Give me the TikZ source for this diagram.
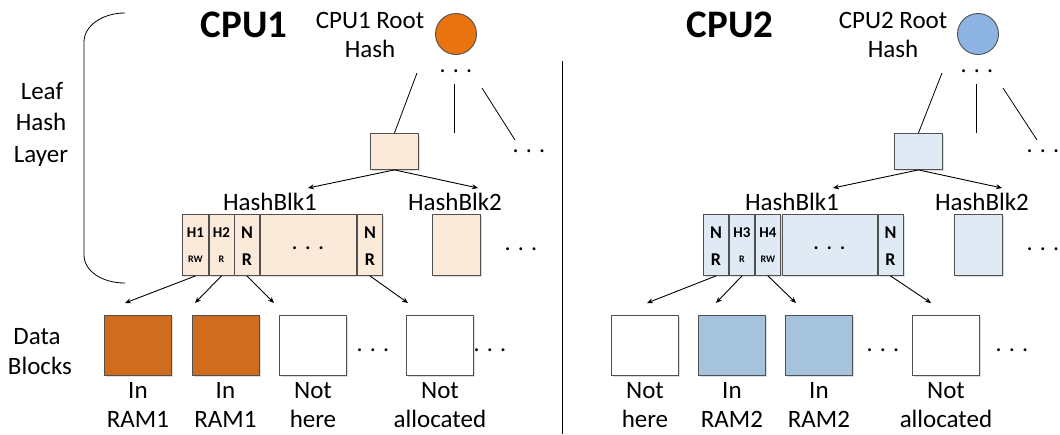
\documentclass[tikz,border=0pt]{standalone}
\usepackage{fontspec}
\setmainfont{Carlito}
\usetikzlibrary{arrows.meta,shadows}
\definecolor{orgC}{HTML}{E8730F}
\definecolor{orgD}{HTML}{D06C1E}
\definecolor{orgL}{HTML}{FBE9DA}
\definecolor{bluC}{HTML}{8DB3E2}
\definecolor{bluD}{HTML}{A6C3DE}
\definecolor{bluL}{HTML}{DFEAF4}
\definecolor{edge}{HTML}{505050}
\tikzset{
  box/.style={draw=edge, line width=0.9pt, inner sep=0pt, anchor=north west,
    drop shadow={shadow xshift=1.6pt, shadow yshift=-1.6pt, fill=black!13, opacity=1}},
  cellbox/.style={box, minimum height=61pt},
  datablk/.style={box, minimum width=67pt, minimum height=60pt},
  txt/.style={inner sep=0pt, anchor=base, font=\fontsize{25}{30}\selectfont},
  title/.style={inner sep=0pt, anchor=base, font=\fontsize{39}{44}\selectfont\bfseries},
  dots/.style={inner sep=0pt, anchor=base, font=\fontsize{24}{28}\selectfont},
  bigc/.style={inner sep=0pt, anchor=base, font=\fontsize{18}{20}\selectfont\bfseries},
  smallc/.style={inner sep=0pt, anchor=base, font=\fontsize{15}{17}\selectfont\bfseries},
  tinyc/.style={inner sep=0pt, anchor=base, font=\fontsize{10}{12}\selectfont\bfseries},
  arr/.style={-{Stealth[length=6pt,width=5pt]}, line width=0.9pt},
  ln/.style={line width=0.8pt},
  rootc/.style={circle, draw=edge, line width=0.9pt, minimum size=41pt, inner sep=0pt},
}
\begin{document}
\begin{tikzpicture}[x=1pt,y=-1pt]
\useasboundingbox (0,0) rectangle (1060,434);
\fill[white] (0,0) rectangle (1060,434);

% ---------------- left labels and bracket
\draw[ln] (125,13) .. controls (102,13) and (84,26) .. (84,42) -- (84,255)
  .. controls (84,271) and (102,283) .. (125,283);
\node[txt] (leaf1) at (42,99) {Leaf};
\node[txt] (leaf2) at (41,130.5) {Hash};
\node[txt] (leaf3) at (41,162) {Layer};
\node[txt] (data1) at (37,344) {Data};
\node[txt] (data2) at (40,374) {Blocks};

% separator
\draw[ln] (562,61) -- (562,434);

% ================= CPU1
\node[title] (t1) at (244,37) {CPU1};
\node[txt] (rt1a) at (370,28) {CPU1 Root};
\node[txt] (rt1b) at (370,57) {Hash};
\node[rootc, fill=orgC] (root1) at (456,34) {};
\node[dots] (d1a) at (456,72.5) {. . .};
\node[box, fill=orgL, minimum width=48pt, minimum height=36pt] (sb1) at (370,133) {};
\coordinate (l1a) at (417,73);
\coordinate (l1b) at (454,84);
\coordinate (l1c) at (454,133);
\coordinate (l1d) at (482,88);
\coordinate (l1e) at (515,140);
\draw[ln] (sb1.north) -- (l1a);
\draw[ln] (l1b) -- (l1c);
\draw[ln] (l1d) -- (l1e);
\node[dots] (d1b) at (529,152.5) {. . .};
\coordinate (h1a) at (308,188);
\coordinate (h1b) at (478,188);
\draw[arr] (sb1.south) -- (h1a);
\draw[arr] (sb1.south) -- (h1b);
\node[txt] (hb11) at (270,210) {HashBlk1};
\node[txt] (hb12) at (455,210) {HashBlk2};
% cells
\node[cellbox, fill=orgL, minimum width=26pt] (c11) at (182,214) {};
\node[cellbox, fill=orgL, minimum width=25pt] (c12) at (208.5,214) {};
\node[cellbox, fill=orgL, minimum width=25pt] (c13) at (234,214) {};
\node[cellbox, fill=orgL, minimum width=96pt] (c14) at (259.5,214) {};
\node[cellbox, fill=orgL, minimum width=25pt] (c15) at (357,214) {};
\node[cellbox, fill=orgL, minimum width=48pt] (c16) at (432,214) {};
\node[smallc] at (c11.center |- 0,237.5) {H1};
\node[tinyc] at (c11.center |- 0,262.5) {RW};
\node[smallc] at (c12.center |- 0,237.5) {H2};
\node[tinyc] at (c12.center |- 0,262.5) {R};
\node[bigc] at (c13.center |- 0,238.5) {N};
\node[bigc] at (c13.center |- 0,265) {R};
\node[dots] (d1c) at (c14.center |- 0,249.5) {. . .};
\node[bigc] at (c15.center |- 0,238.5) {N};
\node[bigc] at (c15.center |- 0,265) {R};
\node[dots] (d1d) at (521,250.5) {. . .};
% data blocks
\node[datablk, fill=orgD] (b11) at (104,315) {};
\node[datablk, fill=orgD] (b12) at (191.5,315) {};
\node[datablk, fill=white] (b13) at (279,315) {};
\node[datablk, fill=white] (b14) at (406,315) {};
\node[dots] (d1e) at (373,351.5) {. . .};
\node[dots] (d1f) at (490,351.5) {. . .};
\coordinate (e11) at (125,303);
\coordinate (e12) at (195,303);
\coordinate (e13) at (274,303);
\coordinate (e14) at (408,303);
\draw[arr] (c11.south) -- (e11);
\draw[arr] (c12.south) -- (e12);
\draw[arr] (c13.south) -- (e13);
\draw[arr] (c15.south) -- (e14);
\node[txt] at (b11.center |- 0,398) {In};
\node[txt] at (b11.center |- 0,427) {RAM1};
\node[txt] at (b12.center |- 0,398) {In};
\node[txt] at (b12.center |- 0,427) {RAM1};
\node[txt] at (b13.center |- 0,398) {Not};
\node[txt] at (b13.center |- 0,427) {here};
\node[txt] at (b14.center |- 0,398) {Not};
\node[txt] at (b14.center |- 0,427) {allocated};

% ================= CPU2
\node[title] (t2) at (730,37) {CPU2};
\node[txt] (rt2a) at (893,28) {CPU2 Root};
\node[txt] (rt2b) at (893,57) {Hash};
\node[rootc, fill=bluC] (root2) at (978,34) {};
\node[dots] (d2a) at (977,72.5) {. . .};
\node[box, fill=bluL, minimum width=48pt, minimum height=36pt] (sb2) at (894,133) {};
\coordinate (l2a) at (942,73);
\coordinate (l2b) at (976,84);
\coordinate (l2c) at (976,133);
\coordinate (l2d) at (1003,88);
\coordinate (l2e) at (1037,140);
\draw[ln] (sb2.north) -- (l2a);
\draw[ln] (l2b) -- (l2c);
\draw[ln] (l2d) -- (l2e);
\node[dots] (d2b) at (1043,152.5) {. . .};
\coordinate (h2a) at (833,188);
\coordinate (h2b) at (1002,188);
\draw[arr] (sb2.south) -- (h2a);
\draw[arr] (sb2.south) -- (h2b);
\node[txt] (hb21) at (792,210) {HashBlk1};
\node[txt] (hb22) at (982,210) {HashBlk2};
% cells
\node[cellbox, fill=bluL, minimum width=25pt] (c21) at (703,214) {};
\node[cellbox, fill=bluL, minimum width=25pt] (c22) at (729,214) {};
\node[cellbox, fill=bluL, minimum width=25pt] (c23) at (755,214) {};
\node[cellbox, fill=bluL, minimum width=95pt] (c24) at (781.5,214) {};
\node[cellbox, fill=bluL, minimum width=25pt] (c25) at (877.5,214) {};
\node[cellbox, fill=bluL, minimum width=48pt] (c26) at (954,214) {};
\node[bigc] at (c21.center |- 0,238.5) {N};
\node[bigc] at (c21.center |- 0,265) {R};
\node[smallc] at (c22.center |- 0,237.5) {H3};
\node[tinyc] at (c22.center |- 0,262.5) {R};
\node[smallc] at (c23.center |- 0,237.5) {H4};
\node[tinyc] at (c23.center |- 0,262.5) {RW};
\node[dots] (d2c) at (c24.center |- 0,249.5) {. . .};
\node[bigc] at (c25.center |- 0,238.5) {N};
\node[bigc] at (c25.center |- 0,265) {R};
\node[dots] (d2d) at (1043,250.5) {. . .};
% data blocks
\node[datablk, fill=white] (b21) at (611,315) {};
\node[datablk, fill=bluD] (b22) at (698,315) {};
\node[datablk, fill=bluD] (b23) at (785,315) {};
\node[datablk, fill=white] (b24) at (912,315) {};
\node[dots] (d2e) at (883,351.5) {. . .};
\node[dots] (d2f) at (1012,351.5) {. . .};
\coordinate (e21) at (647,303);
\coordinate (e22) at (716,303);
\coordinate (e23) at (796,303);
\coordinate (e24) at (931,303);
\draw[arr] (c21.south) -- (e21);
\draw[arr] (c22.south) -- (e22);
\draw[arr] (c23.south) -- (e23);
\draw[arr] (c25.south) -- (e24);
\node[txt] at (b21.center |- 0,398) {Not};
\node[txt] at (b21.center |- 0,427) {here};
\node[txt] at (b22.center |- 0,398) {In};
\node[txt] at (b22.center |- 0,427) {RAM2};
\node[txt] at (b23.center |- 0,398) {In};
\node[txt] at (b23.center |- 0,427) {RAM2};
\node[txt] at (b24.center |- 0,398) {Not};
\node[txt] at (b24.center |- 0,427) {allocated};
\end{tikzpicture}
\end{document}
